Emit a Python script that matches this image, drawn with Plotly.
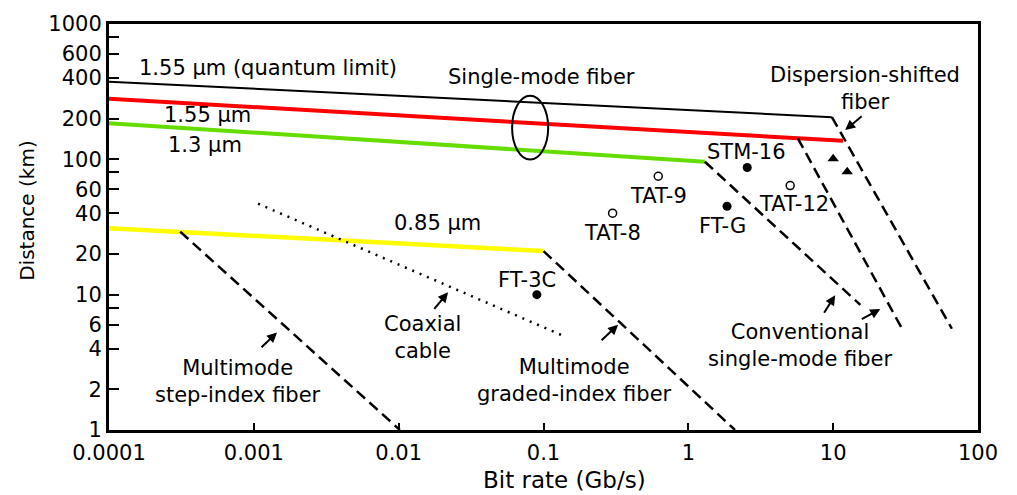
import math
import plotly.graph_objects as go

# ---------------- data ----------------
# solid loss-limited lines (Bit rate Gb/s, Distance km)
quantum_x = [0.0001, 9.8]
quantum_y = [375, 205]
sm155_x = [0.0001, 11.7]
sm155_y = [280, 137]
sm13_x = [0.0001, 1.3]
sm13_y = [185, 96]
mm085_x = [0.0001, 0.1]
mm085_y = [31, 21]

# dashed dispersion-limited lines
step_x = [0.00031, 0.0102]
step_y = [29.2, 1]
graded_x = [0.1, 2.1]
graded_y = [21, 1]
conv1_x = [1.3, 15.4]
conv1_y = [96, 8.4]
conv2_x = [5.7, 29.9]
conv2_y = [143, 5.6]
dsf_x = [9.8, 66]
dsf_y = [205, 5.6]
coax_x = [0.00107, 0.141]
coax_y = [47, 4.9]

# systems
filled_names = ["STM-16", "FT-G", "FT-3C"]
filled_x = [2.55, 1.85, 0.09]
filled_y = [87, 45, 10]
open_names = ["TAT-9", "TAT-8", "TAT-12"]
open_x = [0.62, 0.30, 5.05]
open_y = [75, 40, 64]
tri_x = [10, 12.5]
tri_y = [101, 81]

# axis ticks
x_ticks = [0.0001, 0.001, 0.01, 0.1, 1, 10, 100]
x_ticktext = ["0.0001", "0.001", "0.01", "0.1", "1", "10", "100"]
y_ticks = [1, 2, 4, 6, 8, 10, 20, 40, 60, 80, 100, 200, 400, 600, 800, 1000]
y_ticktext = ["1", "2", "4", "6", "", "10", "20", "40", "60", "", "100", "200", "400", "600", "", "1000"]

FONT = "DejaVu Sans"
fig = go.Figure()

def line(x, y, color, width, dash="solid"):
    fig.add_trace(go.Scatter(x=x, y=y, mode="lines",
                             line=dict(color=color, width=width, dash=dash),
                             showlegend=False, hoverinfo="skip"))

line(quantum_x, quantum_y, "black", 2)
line(sm155_x, sm155_y, "#ff0000", 4)
line(sm13_x, sm13_y, "#66dd00", 4)
line(mm085_x, mm085_y, "#ffff00", 4.5)
for xs, ys in [(step_x, step_y), (graded_x, graded_y), (conv1_x, conv1_y),
               (conv2_x, conv2_y), (dsf_x, dsf_y)]:
    line(xs, ys, "black", 2.5, "11px,6px")
line(coax_x, coax_y, "black", 2.5, "2px,6px")

fig.add_trace(go.Scatter(x=filled_x, y=filled_y, mode="markers",
                         marker=dict(color="black", size=9, symbol="circle"),
                         showlegend=False, hoverinfo="skip"))
fig.add_trace(go.Scatter(x=open_x, y=open_y, mode="markers",
                         marker=dict(color="white", size=8, symbol="circle",
                                     line=dict(color="black", width=1.5)),
                         showlegend=False, hoverinfo="skip"))
fig.add_trace(go.Scatter(x=tri_x, y=tri_y, mode="markers",
                         marker=dict(color="black", size=10, symbol="triangle-up"),
                         showlegend=False, hoverinfo="skip"))

# ellipse marking single-mode fiber group
fig.add_shape(type="circle", xref="x", yref="y",
              x0=0.0607, x1=0.1077, y0=99.6, y1=295,
              line=dict(color="black", width=2))

L = math.log10

def txt(x, y, text, **kw):
    d = dict(x=L(x), y=L(y), xref="x", yref="y", text=text, showarrow=False,
             font=dict(family=FONT, size=21, color="black"))
    d.update(kw)
    fig.add_annotation(**d)

def arrow(x, y, ax, ay):
    fig.add_annotation(x=L(x), y=L(y), xref="x", yref="y", text="", showarrow=True,
                       ax=ax, ay=ay, arrowhead=2, arrowsize=1, arrowwidth=2,
                       arrowcolor="black")

txt(10**-2.902, 10**2.673, "1.55 \u03bcm (quantum limit)")
txt(10**-3.323, 10**2.325, "1.55 \u03bcm")
txt(10**-3.337, 10**2.107, "1.3 \u03bcm")
txt(10**-1.017, 10**2.608, "Single-mode fiber")
txt(10**1.221, 10**2.524, "Dispersion-shifted<br>fiber")
arrow(10**1.083, 10**2.216, 18, -15)
txt(10**0.399, 10**2.056, "STM-16")
txt(10**0.731, 10**1.671, "TAT-12")
txt(10**0.233, 10**1.511, "FT-G")
txt(10**-0.209, 10**1.729, "TAT-9")
txt(10**-0.526, 10**1.453, "TAT-8")
txt(10**-1.735, 10**1.526, "0.85 \u03bcm")
txt(10**-1.113, 10**1.112, "FT-3C")
txt(10**-1.838, 10**0.683, "Coaxial<br>cable")
arrow(10**-1.659, 10**1.017, -15, 18)
txt(10**-0.789, 10**0.364, "Multimode<br>graded-index fiber")
arrow(10**-0.485, 10**0.778, -18, 17)
txt(10**-3.109, 10**0.357, "Multimode<br>step-index fiber")
arrow(10**-2.840, 10**0.720, -17, 16)
txt(10**0.772, 10**0.625, "Conventional<br>single-mode fiber")
arrow(10**1.014, 10**0.996, -12, 19)
arrow(10**1.325, 10**0.894, -20, 11)

# axis titles
fig.add_annotation(x=(564 - 109) / 869, y=-(481 - 430) / 413, xref="paper", yref="paper",
                   xanchor="center", yanchor="middle",
                   text="Bit rate (Gb/s)", showarrow=False,
                   font=dict(family=FONT, size=23, color="black"))
fig.add_annotation(x=-(109 - 27) / 869, y=(430 - 207) / 413, xref="paper", yref="paper",
                   xanchor="center", yanchor="middle",
                   text="Distance (km)", showarrow=False, textangle=-90,
                   font=dict(family=FONT, size=20, color="black"))

fig.update_xaxes(type="log", range=[-4, 2], tickvals=x_ticks, ticktext=x_ticktext,
                 ticks="inside", ticklen=7, tickwidth=2, tickcolor="black",
                 showline=True, linecolor="black", linewidth=3, mirror=True,
                 showgrid=False, zeroline=False, ticklabelstandoff=2,
                 tickfont=dict(family=FONT, size=21, color="black"))
fig.update_yaxes(type="log", range=[0, 3], tickvals=y_ticks, ticktext=y_ticktext,
                 ticks="inside", ticklen=10, tickwidth=2, tickcolor="black",
                 showline=True, linecolor="black", linewidth=3, mirror=True,
                 showgrid=False, zeroline=False,
                 tickfont=dict(family=FONT, size=21, color="black"))

fig.update_layout(width=1017, height=495, plot_bgcolor="white", paper_bgcolor="white",
                  margin=dict(l=109, r=39, t=16, b=65))

fig.write_html("out.html")
